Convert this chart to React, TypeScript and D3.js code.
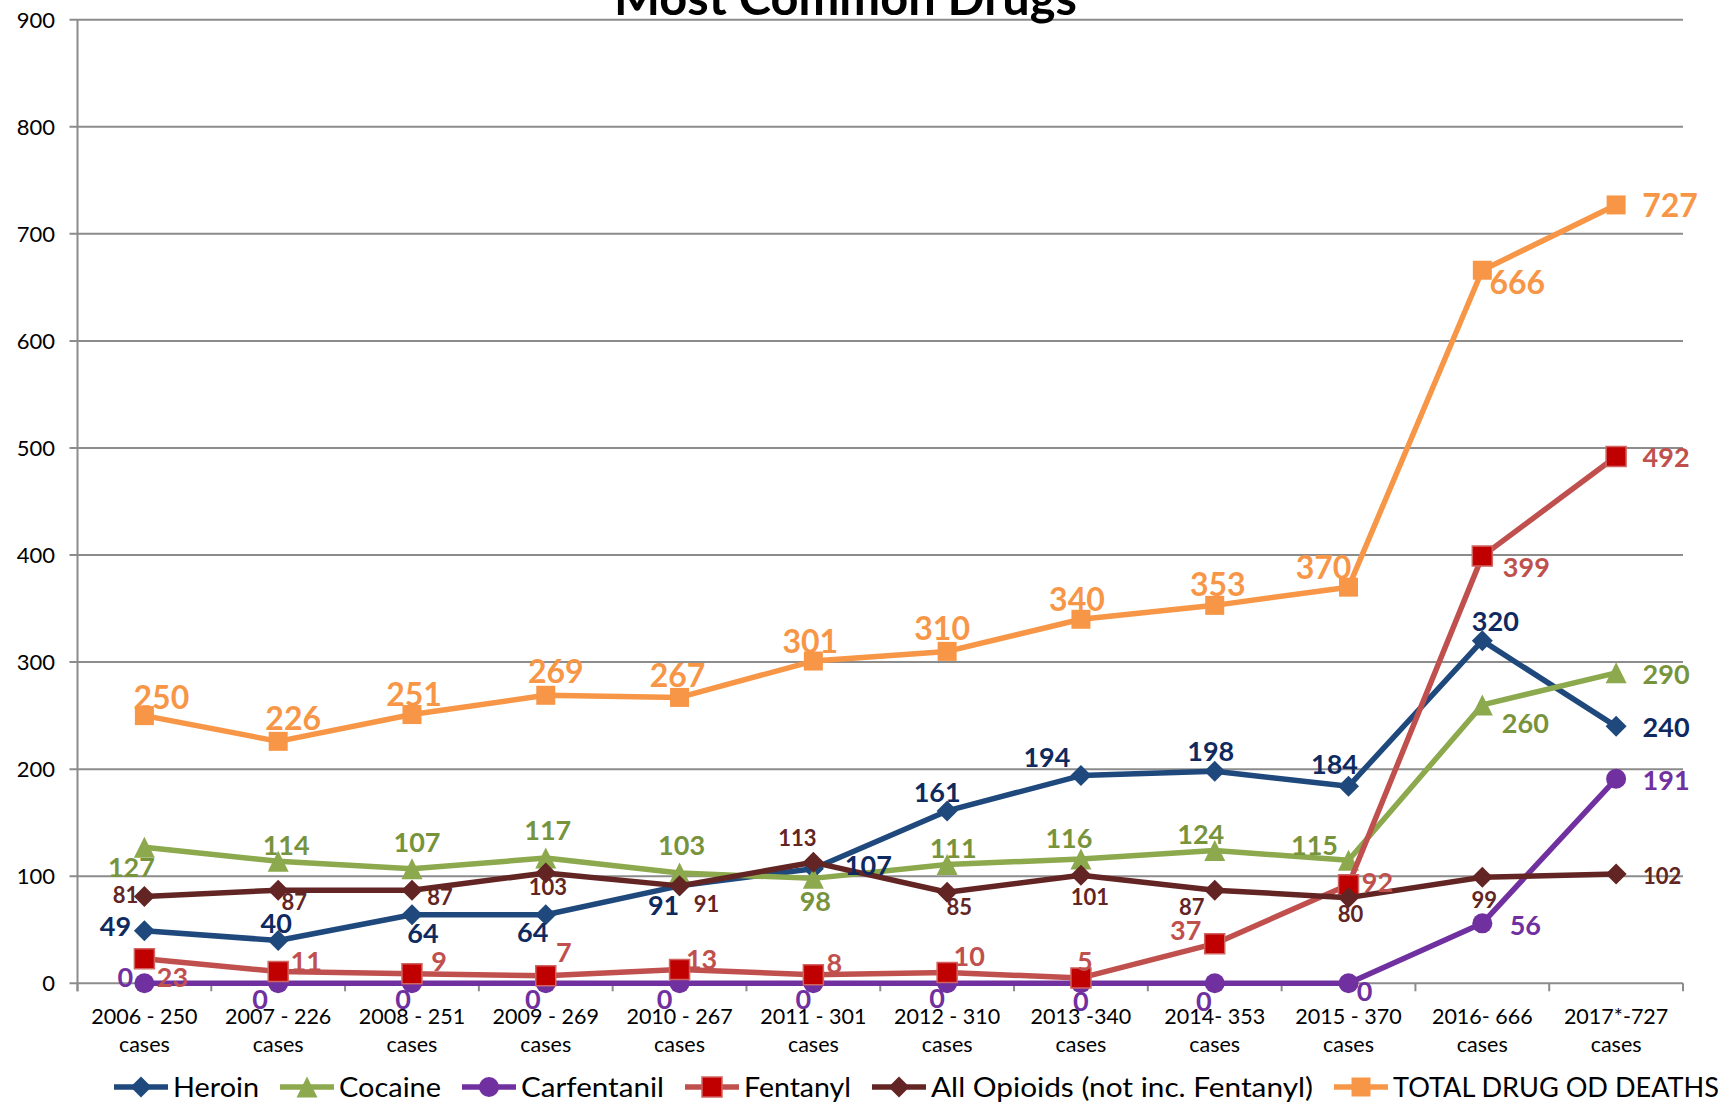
import React from "react";
import * as d3 from "d3";

// ---------- DATA ----------
const categories = [
  "2006 - 250", "2007 - 226", "2008 - 251", "2009 - 269", "2010 - 267", "2011 - 301",
  "2012 - 310", "2013 -340", "2014- 353", "2015 - 370", "2016- 666", "2017*-727",
];
const categorySubLabel = "cases";
const yTicks = [0, 100, 200, 300, 400, 500, 600, 700, 800, 900];

const heroin = [49, 40, 64, 64, 91, 107, 161, 194, 198, 184, 320, 240];
const cocaine = [127, 114, 107, 117, 103, 98, 111, 116, 124, 115, 260, 290];
const carfentanil = [0, 0, 0, 0, 0, 0, 0, 0, 0, 0, 56, 191];
const fentanyl = [23, 11, 9, 7, 13, 8, 10, 5, 37, 92, 399, 492];
const allOpioids = [81, 87, 87, 103, 91, 113, 85, 101, 87, 80, 99, 102];
const totalDeaths = [250, 226, 251, 269, 267, 301, 310, 340, 353, 370, 666, 727];

const seriesNames = [
  "Heroin", "Cocaine", "Carfentanil", "Fentanyl",
  "All Opioids (not inc. Fentanyl)", "TOTAL DRUG OD DEATHS",
];
const titleText = "Most Common Drugs";

// ---------- LAYOUT (label offsets from marker centre, px) ----------
const heroinOff = [[-29, -5], [-2, -17], [11, 19], [-13, 18], [-16, 19], [55, -3], [-10, -19], [-34, -18], [-4, -20], [-14, -22], [13, -19], [50, 1]];
const cocaineOff = [[-13, 20], [8, -16], [5, -26], [2, -28], [2, -28], [2, 23], [6, -16], [-12, -21], [-14, -16], [-34, -15], [43, 18], [50, 1]];
const carfOff = [[-19, -6], [-18, 16], [-9, 16], [-13, 16], [-15, 16], [-10, 16], [-10, 15], [0, 18], [-11, 18], [16, 8], [43, 2], [50, 1]];
const fentOff = [[28, 19], [28, -10], [27, -12], [18, -24], [22, -10], [21, -11], [22, -16], [4, -17], [-29, -13], [29, -3], [44, 11], [50, 1]];
const opioidOff = [[-19, -1], [16, 12], [28, 7], [2, 14], [27, 18], [-16, -24], [12, 15], [9, 22], [-23, 17], [2, 16], [2, 23], [46, 2]];
const totalOff = [[17, -18], [15, -23], [2, -20], [10, -24], [-2, -22], [-3, -20], [-5, -23], [-4, -20], [3, -21], [-25, -20], [35, 12], [54, 1]];

const W = 1735;
const H = 1102;
const plotLeft = 77.5;
const plotRight = 1683;
const yZero = 983.3;
const yTop = 19.7;
const FONT = "Lato, 'Open Sans', 'Noto Sans', sans-serif";
const LINE_W = 5.5;

type Shape = "diamond" | "triangle" | "circle" | "square";

const seriesDefs = [
  { name: seriesNames[0], values: heroin, off: heroinOff, line: "#1F497D", fill: "#1F497D", stroke: "none", label: "#0E2A5F", shape: "diamond" as Shape, size: 21, font: 27 },
  { name: seriesNames[1], values: cocaine, off: cocaineOff, line: "#8CA94D", fill: "#8CA94D", stroke: "none", label: "#77933C", shape: "triangle" as Shape, size: 21, font: 27 },
  { name: seriesNames[2], values: carfentanil, off: carfOff, line: "#7030A0", fill: "#7030A0", stroke: "none", label: "#7030A0", shape: "circle" as Shape, size: 20, font: 27 },
  { name: seriesNames[3], values: fentanyl, off: fentOff, line: "#C0504D", fill: "#C00000", stroke: "#D06461", label: "#C0504D", shape: "square" as Shape, size: 20, font: 27 },
  { name: seriesNames[4], values: allOpioids, off: opioidOff, line: "#632523", fill: "#632523", stroke: "none", label: "#632523", shape: "diamond" as Shape, size: 21, font: 22 },
  { name: seriesNames[5], values: totalDeaths, off: totalOff, line: "#F79646", fill: "#F79646", stroke: "none", label: "#F79646", shape: "square" as Shape, size: 19, font: 32 },
];

// legend layout: text widths
const legendTextWidths = [86, 102, 143, 107, 382, 326];
const legendStart = 114;
const legendLineLen = 54;

function markerPath(shape: Shape, cx: number, cy: number, s: number): string {
  const h = s / 2;
  switch (shape) {
    case "diamond":
      return `M${cx},${cy - h}L${cx + h},${cy}L${cx},${cy + h}L${cx - h},${cy}Z`;
    case "triangle":
      return `M${cx},${cy - h}L${cx + h},${cy + h}L${cx - h},${cy + h}Z`;
    case "square":
      return `M${cx - h},${cy - h}H${cx + h}V${cy + h}H${cx - h}Z`;
    case "circle":
    default:
      return `M${cx - h},${cy}A${h},${h} 0 1,0 ${cx + h},${cy}A${h},${h} 0 1,0 ${cx - h},${cy}Z`;
  }
}

export default function App() {
  const x = d3.scaleBand<string>().domain(categories).range([plotLeft, plotRight]).padding(0);
  const y = d3.scaleLinear().domain([0, 900]).range([yZero, yTop]);
  const cx = (i: number) => (x(categories[i]) as number) + x.bandwidth() / 2;
  const line = d3
    .line<number>()
    .x((_, i) => cx(i))
    .y((v) => y(v));

  const boundaries = d3.range(categories.length + 1).map((i) => plotLeft + i * x.step());

  // legend positions
  let lx = legendStart;
  const legendItems = seriesDefs.map((s, i) => {
    const item = { s, x0: lx, tx: lx + legendLineLen + 5, tw: legendTextWidths[i] };
    lx = item.tx + item.tw + 21;
    return item;
  });
  const legendY = 1087;

  return (
    <svg
      width={W}
      height={H}
      viewBox={`0 0 ${W} ${H}`}
      style={{ position: "absolute", left: 0, top: 0, background: "#fff", fontFamily: FONT }}
    >
      <rect x={0} y={0} width={W} height={H} fill="#fff" />
      {/* gridlines + y ticks */}
      {yTicks.map((t) => (
        <g key={t}>
          <line x1={plotLeft - 8} x2={plotRight} y1={y(t)} y2={y(t)} stroke="#8C8C8C" strokeWidth={2} />
          <text x={55} y={y(t) + 8} textAnchor="end" fontSize={22} fill="#000">
            {t}
          </text>
        </g>
      ))}
      {/* y axis */}
      <line x1={plotLeft} x2={plotLeft} y1={yTop} y2={yZero + 8} stroke="#8C8C8C" strokeWidth={2} />
      {/* x ticks */}
      {boundaries.map((bx, i) => (
        <line key={i} x1={bx} x2={bx} y1={yZero} y2={yZero + 8} stroke="#8C8C8C" strokeWidth={2} />
      ))}
      {/* x labels */}
      {categories.map((c, i) => (
        <g key={c}>
          <text x={cx(i)} y={1024} textAnchor="middle" fontSize={21.5} fill="#000">
            {c}
          </text>
          <text x={cx(i)} y={1052} textAnchor="middle" fontSize={21.5} fill="#000">
            {categorySubLabel}
          </text>
        </g>
      ))}
      {/* series */}
      {seriesDefs.map((s) => (
        <g key={s.name}>
          <path d={line(s.values) || ""} fill="none" stroke={s.line} strokeWidth={LINE_W} strokeLinejoin="round" />
          {s.values.map((v, i) => (
            <path
              key={i}
              d={markerPath(s.shape, cx(i), y(v), s.size)}
              fill={s.fill}
              stroke={s.stroke}
              strokeWidth={s.stroke === "none" ? 0 : 1.5}
            />
          ))}
        </g>
      ))}
      {/* data labels */}
      {seriesDefs.map((s) => (
        <g key={s.name + "-labels"}>
          {s.values.map((v, i) => (
            <text
              key={i}
              x={cx(i) + s.off[i][0]}
              y={y(v) + s.off[i][1] + s.font * 0.36}
              textAnchor="middle"
              fontSize={s.font}
              fontWeight="bold"
              fill={s.label}
            >
              {v}
            </text>
          ))}
        </g>
      ))}
      {/* legend */}
      {legendItems.map(({ s, x0, tx, tw }) => (
        <g key={s.name + "-legend"}>
          <line x1={x0} x2={x0 + legendLineLen} y1={legendY} y2={legendY} stroke={s.line} strokeWidth={LINE_W} />
          <path
            d={markerPath(s.shape, x0 + legendLineLen / 2, legendY, s.size)}
            fill={s.fill}
            stroke={s.stroke}
            strokeWidth={s.stroke === "none" ? 0 : 1.5}
          />
          <text x={tx} y={1097} fontSize={26} fill="#000" textLength={tw} lengthAdjust="spacingAndGlyphs">
            {s.name}
          </text>
        </g>
      ))}
      {/* title (clipped at the top) */}
      <text
        x={845.5}
        y={15}
        textAnchor="middle"
        fontSize={48}
        fontWeight="bold"
        fill="#000"
        textLength={463}
        lengthAdjust="spacingAndGlyphs"
      >
        {titleText}
      </text>
    </svg>
  );
}
